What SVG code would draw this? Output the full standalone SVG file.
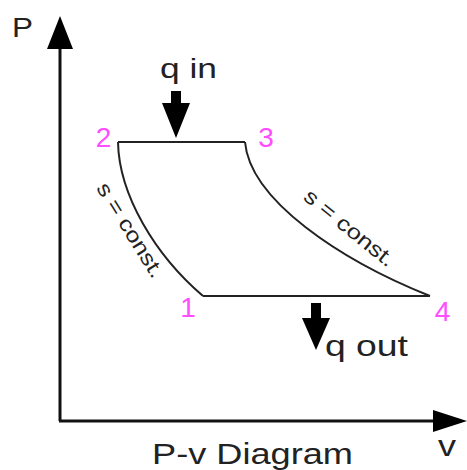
<svg xmlns="http://www.w3.org/2000/svg" width="467" height="470" viewBox="0 0 467 470">
<style>
.lbl{font-family:"Liberation Sans",Arial,sans-serif;fill:#222}
.num{font-family:"Liberation Sans",Arial,sans-serif;fill:#ff4dff;font-size:28px;text-anchor:middle}
.curve{fill:none;stroke:#222;stroke-width:2}
.axis{stroke:#111;stroke-width:3}
</style>
<rect width="467" height="470" fill="#fff"/>
<g id="axes">
<line class="axis" x1="60" y1="421" x2="60" y2="45"/>
<polygon points="60,16 47,49 73,49" fill="#000"/>
<line class="axis" x1="59" y1="421" x2="436" y2="421"/>
<polygon points="467,421 433,410 433,432" fill="#000"/>
<text class="lbl" x="12" y="37" font-size="28" textLength="21" lengthAdjust="spacingAndGlyphs">P</text>
<text class="lbl" x="438" y="456" font-size="29" textLength="18" lengthAdjust="spacingAndGlyphs">v</text>
<text class="lbl" x="152" y="464" font-size="29" textLength="201" lengthAdjust="spacingAndGlyphs">P-v Diagram</text>
</g>
<g id="connectors">
<path id="p23" class="curve" d="M118,142 L245,142"/>
<path id="p34" class="curve" d="M245,142 C250,200 340,260 430,296"/>
<path id="p41" class="curve" d="M430,296 L203,296"/>
<path id="p12" class="curve" d="M203,296 C155,255 119,195 118,142"/>
</g>
<g id="node1"><text class="num" x="188" y="317">1</text></g>
<g id="node2"><text class="num" x="103.5" y="147">2</text></g>
<g id="node3"><text class="num" x="266" y="147">3</text></g>
<g id="node4"><text class="num" x="442.5" y="321">4</text></g>
<g id="label-left">
<text class="lbl" font-size="21" transform="translate(102,184) rotate(58)" dominant-baseline="central" textLength="108" lengthAdjust="spacingAndGlyphs">s = const.</text>
</g>
<g id="label-right">
<text class="lbl" font-size="21" transform="translate(307,193) rotate(39)" dominant-baseline="central" textLength="110" lengthAdjust="spacingAndGlyphs">s = const.</text>
</g>
<g id="qin">
<text class="lbl" x="160" y="78" font-size="27" textLength="57" lengthAdjust="spacingAndGlyphs">q in</text>
<polygon points="171,91 181,91 181,103 190,103 176,138 162,103 171,103" fill="#000"/>
</g>
<g id="qout">
<text class="lbl" x="325" y="356" font-size="30" textLength="83" lengthAdjust="spacingAndGlyphs">q out</text>
<polygon points="311,303 321,303 321,318 330,318 316,350 302,318 311,318" fill="#000"/>
</g>
</svg>
